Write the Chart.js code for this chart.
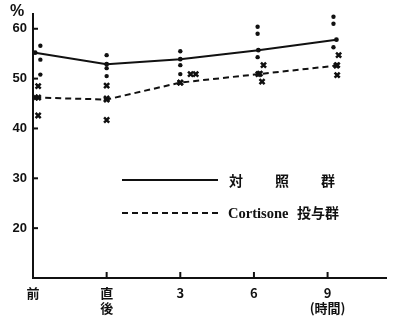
<!doctype html>
<html lang="ja">
<head>
<meta charset="utf-8">
<title></title>
<style>
  * { margin: 0; padding: 0; }
  body { background: #fff; }
  .chartBox { width: 393px; height: 324px; }
</style>
</head>
<body>
<div class="chartBox"><canvas id="cortChart"></canvas></div>
<script src="https://cdn.jsdelivr.net/npm/chart.js"></script>
<script>
// time points (x axis) - 前, 直後, 3, 6, 9 時間
const timeLabels = ['前', ['直', '後'], '3', '6', ['9', '(時間)']]
const timeTicks = [0, 1, 2, 3, 4]
const timeX = [0.03, 1.0, 2.0, 3.06, 4.12]   // where the group means sit
const yTicks = [20, 30, 40, 50, 60]

// group means (%)
const controlMean = [55.2, 52.9, 53.9, 55.7, 57.8]
const cortisoneMean = [46.2, 45.8, 49.2, 50.9, 52.6]

// individual values, per time point
const controlX = [0.1, 1.0, 2.0, 3.05, 4.08]
const controlIndiv = [
  [56.6, 53.8, 50.8],
  [54.7, 52.1, 50.5],
  [55.5, 52.7, 50.9],
  [60.4, 59.0, 54.3],
  [62.4, 61.0, 56.3]
]
const cortisoneX = [
  [0.07, 0.07, 0.07],
  [1.0, 1.0, 1.0],
  [2.14, 2.21, 2.0],
  [3.13, 3.08, 3.11],
  [4.15, 4.13, 4.13]
]
const cortisoneIndiv = [
  [48.5, 46.2, 42.6],
  [48.6, 46.0, 41.7],
  [50.9, 50.9, 49.2],
  [52.7, 51.0, 49.4],
  [54.7, 52.7, 50.7]
]

const INK = '#111'
const numFont = { family: "'Liberation Sans', 'DejaVu Sans', sans-serif", size: 13, weight: 'bold' }

const controlPts = []
controlIndiv.forEach((vals, i) => vals.forEach(v => controlPts.push({ x: controlX[i], y: v })))
const cortisonePts = []
cortisoneIndiv.forEach((vals, i) => vals.forEach((v, j) => cortisonePts.push({ x: cortisoneX[i][j], y: v })))

// small inward tick marks, % sign and the hand drawn legend
const decor = {
  id: 'decor',
  afterDraw(chart) {
    const c = chart.ctx
    const xs = chart.scales.x, ys = chart.scales.y
    const area = chart.chartArea
    c.save()
    c.strokeStyle = INK
    c.fillStyle = INK
    c.lineWidth = 2
    yTicks.forEach(v => {
      const py = ys.getPixelForValue(v)
      c.beginPath(); c.moveTo(area.left, py); c.lineTo(area.left + 5, py); c.stroke()
    })
    timeTicks.slice(1).forEach(v => {
      const px = xs.getPixelForValue(v)
      c.beginPath(); c.moveTo(px, area.bottom); c.lineTo(px, area.bottom - 6); c.stroke()
    })
    c.font = "bold 16px 'Liberation Sans', sans-serif"
    c.textAlign = 'left'
    c.textBaseline = 'middle'
    c.fillText('%', 10, 12)

    // legend
    c.lineWidth = 2
    c.beginPath(); c.moveTo(122, 180); c.lineTo(218, 180); c.stroke()
    c.setLineDash([6, 4])
    c.beginPath(); c.moveTo(122, 213); c.lineTo(218, 213); c.stroke()
    c.setLineDash([])
    c.font = "bold 14px 'Noto Sans CJK JP', sans-serif"
    c.letterSpacing = '32px'
    c.fillText('対照群', 229, 181)
    c.letterSpacing = '0px'
    c.font = "bold 14.5px 'Liberation Serif', serif"
    c.fillText('Cortisone', 228, 214)
    c.font = "bold 14px 'Noto Sans CJK JP', sans-serif"
    c.fillText('投与群', 297, 213)
    c.restore()
  }
}

new Chart(document.getElementById('cortChart'), {
  type: 'scatter',
  data: {
    datasets: [
      {
        type: 'line',
        label: '対照群',
        data: timeX.map((x, i) => ({ x, y: controlMean[i] })),
        borderColor: INK,
        borderWidth: 2,
        pointRadius: 2.4,
        pointBackgroundColor: INK,
        pointBorderWidth: 0,
        tension: 0
      },
      {
        type: 'line',
        label: 'Cortisone投与群',
        data: timeX.map((x, i) => ({ x, y: cortisoneMean[i] })),
        borderColor: INK,
        borderWidth: 2,
        borderDash: [6, 4],
        pointStyle: 'crossRot',
        pointRadius: 3.6,
        pointBorderWidth: 2.5,
        pointBorderColor: INK,
        tension: 0
      },
      {
        label: '対照群 individual',
        data: controlPts,
        pointRadius: 2.2,
        pointBackgroundColor: INK,
        pointBorderWidth: 0
      },
      {
        label: 'Cortisone individual',
        data: cortisonePts,
        pointStyle: 'crossRot',
        pointRadius: 3.6,
        pointBorderWidth: 2.5,
        pointBorderColor: INK
      }
    ]
  },
  options: {
    responsive: true,
    maintainAspectRatio: false,
    animation: false,
    layout: { padding: { top: 10, right: -5, left: 0, bottom: 0 } },
    plugins: {
      legend: { display: false },
      tooltip: { enabled: false }
    },
    scales: {
      x: {
        type: 'linear',
        min: 0,
        max: 4.8,
        afterBuildTicks: s => { s.ticks = timeTicks.map(v => ({ value: v })) },
        afterFit: s => { s.height = 46 },
        grid: { display: false, drawTicks: false },
        border: { display: true, color: INK, width: 2 },
        ticks: {
          color: INK,
          padding: 8,
          maxRotation: 0,
          autoSkip: false,
          font: { family: "'Noto Sans CJK JP', 'Liberation Sans', sans-serif", size: 13, weight: 'bold', lineHeight: 1.15 },
          callback: v => timeLabels[timeTicks.indexOf(v)]
        }
      },
      y: {
        min: 10,
        max: 63,
        afterBuildTicks: s => { s.ticks = yTicks.map(v => ({ value: v })) },
        afterFit: s => { s.width = 33 },
        grid: { display: false, drawTicks: false },
        border: { display: true, color: INK, width: 2 },
        ticks: { color: INK, padding: 6, font: numFont }
      }
    }
  },
  plugins: [decor]
})
</script>
</body>
</html>
